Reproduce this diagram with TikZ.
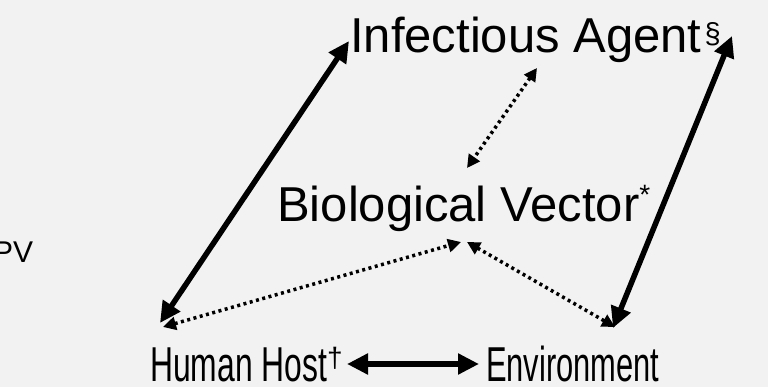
\documentclass[tikz,border=0pt]{standalone}
\usepackage{fontspec}
\setmainfont{Liberation Sans}
\usetikzlibrary{arrows.meta}
\definecolor{bg}{HTML}{F2F2F2}
\tikzset{
  bigtext/.style={inner sep=0pt, font=\fontsize{49}{56}\selectfont},
  thickarr/.style={line width=5.5pt, {Triangle[length=21pt,width=20pt]}-{Triangle[length=21pt,width=20pt]}},
  dotarr/.style={line width=3.5pt, dash pattern=on 3pt off 3.5pt, {Triangle[length=13pt,width=13pt]}-{Triangle[length=13pt,width=13pt]}}
}
\begin{document}
\begin{tikzpicture}[x=1pt,y=-1pt]
\fill[bg] (0,0) rectangle (768,387);
\useasboundingbox (0,0) rectangle (768,387);
% texts
\node[bigtext, anchor=base west] (ia) at (350,53) {Infectious Agent\hspace{3pt}\raisebox{9pt}{\fontsize{29}{29}\selectfont §}};
\node[bigtext, anchor=base west] (bv) at (277,222) {Biological Vector\raisebox{17pt}{\fontsize{28}{28}\selectfont *}};
\node[bigtext, anchor=base west] (hh) at (150,381) {\scalebox{0.65}[1]{Human Host}\raisebox{14pt}{\fontsize{28}{28}\selectfont †}};
\node[bigtext, anchor=base west] (en) at (486,381) {\scalebox{0.63}[1]{Environment}};
\node[inner sep=0pt, anchor=base west, font=\fontsize{30}{32}\selectfont] (pv) at (-7,263) {PV};
% connector end points
\coordinate (hhA) at (160,323);
\coordinate (iaA) at (349,41);
\coordinate (iaB) at (732,36);
\coordinate (enB) at (613,328);
\coordinate (iaC) at (537,68);
\coordinate (bvC) at (467,168);
\coordinate (hhD) at (163,327);
\coordinate (bvD) at (461,242);
\coordinate (bvE) at (467,242);
\coordinate (enE) at (615,327);
\coordinate (hhF) at (347,364);
\coordinate (enF) at (479,364);
% connectors
\draw[thickarr] (hhA) -- (iaA);
\draw[thickarr] (iaB) -- (enB);
\draw[thickarr] (hhF) -- (enF);
\draw[dotarr] (iaC) -- (bvC);
\draw[dotarr] (hhD) -- (bvD);
\draw[dotarr] (bvE) -- (enE);
\end{tikzpicture}
\end{document}
